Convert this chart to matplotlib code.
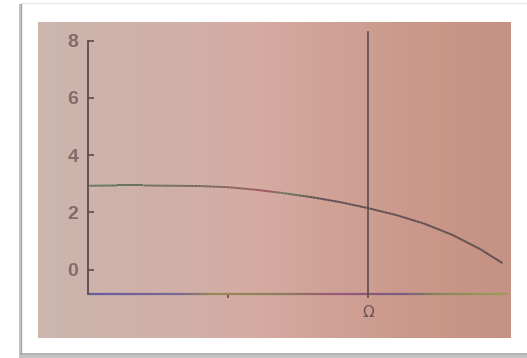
import numpy as np
import matplotlib
matplotlib.use("Agg")
import matplotlib.pyplot as plt
from matplotlib.collections import LineCollection
from matplotlib.colors import LinearSegmentedColormap
from matplotlib.patches import Rectangle

# Response curve read along the normalised frequency axis (Omega = 1)
freq = [0.0, 0.10, 0.20, 0.30, 0.40, 0.50, 0.60, 0.70, 0.80, 0.90,
        1.00, 1.10, 1.20, 1.30, 1.40, 1.48]
response = [2.93, 2.94, 2.94, 2.93, 2.92, 2.88, 2.79, 2.67, 2.53, 2.36,
            2.15, 1.91, 1.61, 1.22, 0.72, 0.23]
y_ticks = [0, 2, 4, 6, 8]
y_tick_labels = ["0", "2", "4", "6", "8"]
cutoff = 1.0
cutoff_label = "Ω"
x_minor_tick = 0.5

W, H = 527, 358
fig = plt.figure(figsize=(W / 100, H / 100), dpi=100)
fig.patch.set_facecolor("white")

# card with drop shadow
bg = fig.add_axes([0, 0, 1, 1])
bg.set_xlim(0, W)
bg.set_ylim(H, 0)
bg.axis("off")
bg.add_patch(Rectangle((19, 4), 510, 354, facecolor="#c4c4c4", edgecolor="none"))
bg.add_patch(Rectangle((21, 3), 508, 351, facecolor="white", edgecolor="#e6e6e6", lw=0.8))
bg.plot([21, 21], [4, 354], color="#a8a8a8", lw=1.0)
bg.plot([21, 527], [354, 354], color="#a8a8a8", lw=1.2)

# printed page background: greyish beige fading to salmon
page_cmap = LinearSegmentedColormap.from_list(
    "page", [(0.0, "#cbb6ad"), (0.35, "#d2aea6"), (0.45, "#d6aca3"),
             (0.65, "#cfa094"), (0.85, "#c99688"), (1.0, "#c49184")])
grad = np.linspace(0, 1, 256).reshape(1, -1)
bg.imshow(grad, cmap=page_cmap, extent=[38, 511, 338, 22], aspect="auto",
          interpolation="bicubic", zorder=2)

ink = "#5c4d50"
label_col = "#85696d"

ax = fig.add_axes([88 / W, 1 - 294 / H, 420 / W, (294 - 32) / H])
ax.set_facecolor("none")
ax.set_xlim(0, 1.5)
ax.set_ylim(-0.85, 8.3)

for s in ["top", "right", "bottom"]:
    ax.spines[s].set_visible(False)
ax.spines["left"].set_bounds(-0.85, 8)
ax.spines["left"].set_color(ink)
ax.spines["left"].set_linewidth(1.3)

ax.set_yticks(y_ticks)
ax.set_yticklabels(y_tick_labels, fontfamily="Liberation Sans", fontweight="bold")
ax.tick_params(axis="y", direction="in", length=4, width=1.2, color=ink,
               labelsize=14, labelcolor=label_col, pad=7)

ax.set_xticks([x_minor_tick, cutoff])
ax.set_xticklabels(["", cutoff_label], fontfamily="DejaVu Sans")
ax.tick_params(axis="x", direction="out", length=3, width=1.2, color=ink,
               labelsize=11, labelcolor="#6a5558", pad=5)

# baseline with printing colour fringes
base_y = -0.85
xb = np.linspace(0, 1.5, 200)
pts = np.column_stack([xb, np.full_like(xb, base_y)])
segs = np.stack([pts[:-1], pts[1:]], axis=1)
fringe = LinearSegmentedColormap.from_list(
    "fringe", [(0.0, "#6a5aa0"), (0.22, "#7a6a90"), (0.3, "#9a8a55"),
               (0.48, "#8a7a60"), (0.58, "#9a5878"), (0.75, "#7a5a80"),
               (0.85, "#8a8a5a"), (1.0, "#a09a5a")])
lc = LineCollection(segs, colors=fringe(np.linspace(0, 1, len(segs))),
                    linewidths=1.6, clip_on=False)
ax.add_collection(lc)

# response curve, with slight colour fringing on the flat part
xc = np.linspace(freq[0], freq[-1], 300)
yc = np.interp(xc, freq, response)
cp = np.column_stack([xc, yc])
csegs = np.stack([cp[:-1], cp[1:]], axis=1)
curve_cmap = LinearSegmentedColormap.from_list(
    "curve", [(0.0, "#5f7a62"), (0.25, "#6f6a55"), (0.38, "#8a6060"),
              (0.43, "#a04a5a"), (0.47, "#6a7a5a"), (0.55, ink), (1.0, ink)])
clc = LineCollection(csegs, colors=curve_cmap(np.linspace(0, 1, len(csegs))),
                     linewidths=1.4)
ax.add_collection(clc)

# cutoff marker
ax.plot([cutoff, cutoff], [base_y, 8.3], color=ink, lw=1.2, clip_on=False)

fig.savefig("out.png", dpi=100, facecolor=fig.get_facecolor())
